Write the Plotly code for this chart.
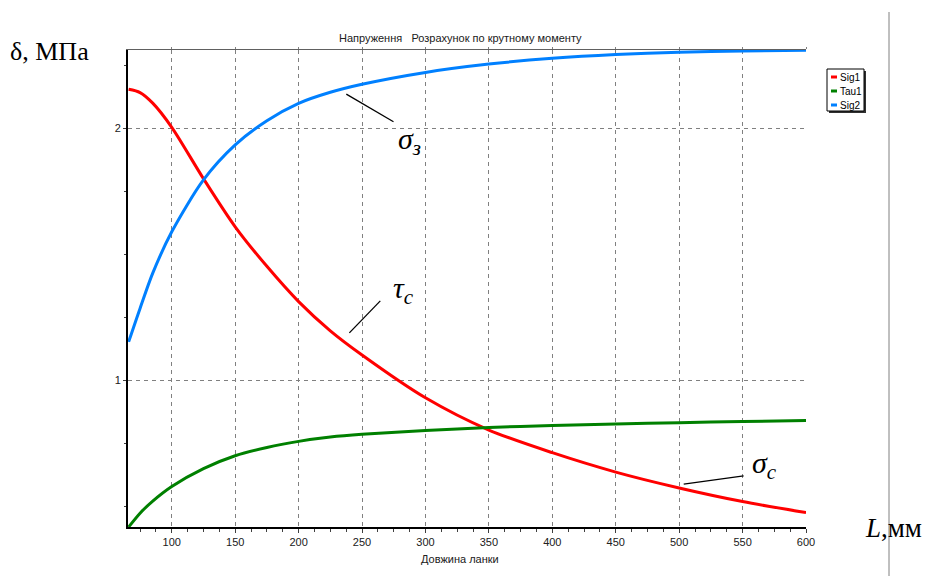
import plotly.graph_objects as go

# Length of the link, mm
length_mm = [66, 75, 85, 100, 125, 150, 175, 200, 225, 250, 300, 350, 400, 450, 500, 550, 600]

# Stresses, MPa
sig1 = [2.155, 2.142, 2.100, 2.004, 1.800, 1.609, 1.452, 1.312, 1.196, 1.100, 0.930, 0.802,
        0.712, 0.635, 0.572, 0.518, 0.474]
tau1 = [0.417, 0.472, 0.520, 0.578, 0.649, 0.700, 0.733, 0.757, 0.774, 0.785, 0.800, 0.812,
        0.820, 0.826, 0.831, 0.836, 0.840]
sig2 = [1.152, 1.285, 1.425, 1.589, 1.795, 1.934, 2.030, 2.099, 2.143, 2.175, 2.222, 2.255,
        2.278, 2.293, 2.302, 2.307, 2.310]

series_names = ["Sig1", "Tau1", "Sig2"]
series_colors = ["#ff0000", "#008000", "#0080ff"]
series_values = [sig1, tau1, sig2]

x_range = [65.5, 600]
y_range = [0.417, 2.311]

# plot box in pixels (left, top, right, bottom) inside a 934x576 page
L, T, R, B = 128, 50, 806, 527
W, H = 934, 576


def px(x):
    return (x - L) / (R - L)


def py(y):
    return 1 - (y - T) / (B - T)


fig = go.Figure()
for name, color, vals in zip(series_names, series_colors, series_values):
    fig.add_trace(go.Scatter(
        x=length_mm, y=vals, name=name, mode="lines",
        line=dict(color=color, width=3, shape="spline", smoothing=0.8),
        showlegend=False,
    ))

# empty trace carrying the mirrored top axis
fig.add_trace(go.Scatter(x=[], y=[], xaxis="x2", showlegend=False, hoverinfo="skip"))

tick_font = dict(family="Liberation Sans, Arial", size=11, color="#202020")

fig.update_layout(
    width=W, height=H,
    margin=dict(l=L, r=W - R, t=T, b=H - B),
    paper_bgcolor="white", plot_bgcolor="white",
    xaxis=dict(
        range=x_range, tick0=0, dtick=50, showgrid=True,
        gridcolor="#808080", griddash="4px,4px", gridwidth=1,
        showline=True, linecolor="black", linewidth=2,
        ticks="outside", ticklen=4, tickcolor="#404040",
        minor=dict(dtick=12.5, tick0=0, ticks="outside", ticklen=3, tickcolor="#404040", showgrid=False),
        tickfont=tick_font, zeroline=False,
    ),
    xaxis2=dict(
        range=x_range, overlaying="x", side="top", anchor="y",
        tick0=0, dtick=50, showgrid=False, showticklabels=False,
        showline=True, linecolor="#606060", linewidth=1,
        ticks="outside", ticklen=2, tickcolor="#808080", zeroline=False,
    ),
    yaxis=dict(
        range=y_range, tick0=0, dtick=1, showgrid=True,
        gridcolor="#808080", griddash="4px,4px", gridwidth=1,
        showline=True, linecolor="black", linewidth=2,
        ticks="outside", ticklen=3, tickcolor="#404040",
        minor=dict(dtick=0.25, tick0=0, ticks="outside", ticklen=2, tickcolor="#404040", showgrid=False),
        tickfont=tick_font, zeroline=False,
    ),
)

annotations = [
    # chart title and axis caption
    dict(text="Напруження\u00a0\u00a0\u00a0Розрахунок по крутному моменту",
         x=px(460), y=py(38), xref="paper", yref="paper", showarrow=False,
         xanchor="center", yanchor="middle",
         font=dict(family="Liberation Sans, Arial", size=11, color="#202020")),
    dict(text="Довжина ланки",
         x=px(460), y=py(559), xref="paper", yref="paper", showarrow=False,
         xanchor="center", yanchor="middle",
         font=dict(family="Liberation Sans, Arial", size=11, color="#202020")),
    # large axis captions
    dict(text="δ, МПа", x=px(8), y=py(52), xref="paper", yref="paper", showarrow=False,
         xanchor="left", yanchor="middle",
         font=dict(family="Liberation Serif, Times New Roman", size=26, color="black")),
    dict(text="<i>L</i>,мм", x=px(863), y=py(528), xref="paper", yref="paper", showarrow=False,
         xanchor="left", yanchor="middle",
         font=dict(family="Liberation Serif, Times New Roman", size=27, color="black")),
    # curve labels
    dict(text="<i>σ<sub>з</sub></i>", x=277, y=1.95, xref="x", yref="y", showarrow=False,
         xanchor="left", yanchor="middle",
         font=dict(family="Liberation Serif, Times New Roman", size=30, color="black")),
    dict(text="<i>τ<sub>c</sub></i>", x=273, y=1.36, xref="x", yref="y", showarrow=False,
         xanchor="left", yanchor="middle",
         font=dict(family="Liberation Serif, Times New Roman", size=30, color="black")),
    dict(text="<i>σ<sub>c</sub></i>", x=556, y=0.665, xref="x", yref="y", showarrow=False,
         xanchor="left", yanchor="middle",
         font=dict(family="Liberation Serif, Times New Roman", size=30, color="black")),
]

shapes = [
    # pointer lines from labels to curves
    dict(type="line", xref="x", yref="y", x0=237.6, y0=2.136, x1=274.8, y1=2.026,
         line=dict(color="black", width=1.3)),
    dict(type="line", xref="x", yref="y", x0=264.4, y0=1.315, x1=240.0, y1=1.188,
         line=dict(color="black", width=1.3)),
    dict(type="line", xref="x", yref="y", x0=503.6, y0=0.587, x1=550.8, y1=0.620,
         line=dict(color="black", width=1.3)),
    # long vertical separator on the right
    dict(type="line", xref="paper", yref="paper", x0=px(889), x1=px(889), y0=py(12), y1=py(576),
         line=dict(color="#808080", width=1)),
    # legend box with drop shadow
    dict(type="rect", xref="paper", yref="paper", x0=px(829), x1=px(866), y0=py(71), y1=py(113),
         line=dict(width=0), fillcolor="#303030"),
    dict(type="rect", xref="paper", yref="paper", x0=px(827), x1=px(864), y0=py(69), y1=py(111),
         line=dict(color="black", width=1), fillcolor="white"),
]

legend_rows = [77, 91, 105]
for name, color, ypix in zip(series_names, series_colors, legend_rows):
    shapes.append(dict(type="line", xref="paper", yref="paper",
                       x0=px(831), x1=px(837), y0=py(ypix), y1=py(ypix),
                       line=dict(color=color, width=3)))
    annotations.append(dict(text=name, x=px(838), y=py(ypix), xref="paper", yref="paper",
                            showarrow=False, xanchor="left", yanchor="middle",
                            font=dict(family="Liberation Sans, Arial", size=10, color="black")))

fig.update_layout(annotations=annotations, shapes=shapes)

fig.write_html("out.html")
